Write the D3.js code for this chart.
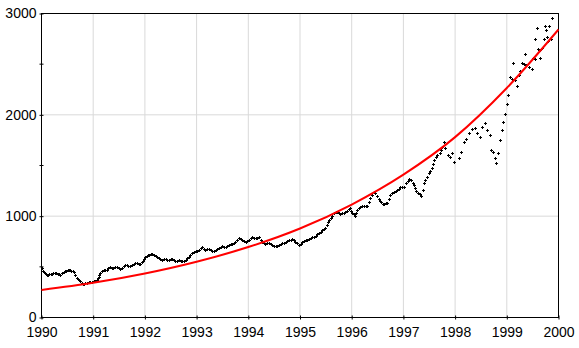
<!DOCTYPE html>
<html>
<head>
<meta charset="utf-8">
<script src="https://cdn.jsdelivr.net/npm/d3@7"></script>
<style>
html,body{margin:0;padding:0;background:#fff;}
svg{display:block;font-family:"Liberation Sans",Arial,sans-serif;}
</style>
</head>
<body>
<svg id="chart" width="579" height="348"></svg>
<script>
// ---- data (decimal year, index value) ----
const indexPoints = [
[1990.00,490],[1990.02,455],[1990.04,445],[1990.06,440],[1990.08,428],[1990.10,423],[1990.13,420],[1990.15,425],[1990.18,430],[1990.20,432],[1990.23,438],[1990.26,440],[1990.28,436],[1990.31,432],[1990.34,425],[1990.36,423],[1990.40,435],[1990.43,446],[1990.46,455],[1990.48,462],[1990.51,466],[1990.53,465],[1990.56,464],[1990.58,462],[1990.60,455],[1990.62,446],[1990.65,420],[1990.68,390],[1990.70,380],[1990.72,372],[1990.74,364],[1990.75,357],[1990.78,345],[1990.80,335],[1990.81,331],[1990.83,333],[1990.85,336],[1990.88,341],[1990.91,346],[1990.94,351],[1990.97,354],
[1991.01,357],[1991.04,362],[1991.07,367],[1991.09,385],[1991.11,400],[1991.12,420],[1991.14,440],[1991.17,455],[1991.20,465],[1991.23,470],[1991.26,472],[1991.29,485],[1991.33,495],[1991.36,492],[1991.39,489],[1991.42,495],[1991.46,499],[1991.49,488],[1991.52,479],[1991.55,492],[1991.59,505],[1991.62,514],[1991.65,521],[1991.68,512],[1991.72,505],[1991.75,518],[1991.78,528],[1991.81,534],[1991.84,538],[1991.88,532],[1991.91,528],[1991.94,545],[1991.97,561],[1991.99,580],
[1992.01,595],[1992.04,610],[1992.06,616],[1992.08,620],[1992.11,624],[1992.14,626],[1992.17,618],[1992.21,610],[1992.24,598],[1992.27,587],[1992.30,578],[1992.33,570],[1992.37,574],[1992.40,577],[1992.43,572],[1992.46,570],[1992.50,574],[1992.53,577],[1992.56,565],[1992.59,554],[1992.62,560],[1992.66,564],[1992.69,558],[1992.72,554],[1992.75,562],[1992.79,570],[1992.82,584],[1992.85,597],[1992.88,617],[1992.91,636],[1992.95,645],[1992.98,652],
[1993.01,660],[1993.04,669],[1993.08,684],[1993.11,695],[1993.14,680],[1993.17,669],[1993.21,673],[1993.24,676],[1993.27,666],[1993.30,659],[1993.34,660],[1993.37,662],[1993.40,675],[1993.43,686],[1993.47,694],[1993.50,701],[1993.53,698],[1993.56,695],[1993.59,707],[1993.62,718],[1993.66,723],[1993.69,728],[1993.72,740],[1993.75,750],[1993.79,768],[1993.82,784],[1993.85,775],[1993.88,767],[1993.92,758],[1993.95,750],[1993.98,758],
[1994.01,767],[1994.05,780],[1994.08,790],[1994.11,787],[1994.14,784],[1994.17,788],[1994.20,790],[1994.24,765],[1994.27,741],[1994.30,734],[1994.33,728],[1994.37,731],[1994.40,734],[1994.43,726],[1994.46,718],[1994.50,708],[1994.53,701],[1994.56,710],[1994.59,718],[1994.63,727],[1994.66,734],[1994.69,738],[1994.72,741],[1994.75,751],[1994.78,760],[1994.82,768],[1994.85,774],[1994.88,762],[1994.91,750],[1994.95,733],[1994.98,718],
[1995.01,730],[1995.04,741],[1995.08,751],[1995.11,760],[1995.14,767],[1995.17,774],[1995.21,782],[1995.24,790],[1995.27,798],[1995.30,807],[1995.33,820],[1995.36,833],[1995.40,846],[1995.43,859],[1995.46,870],[1995.49,882],[1995.52,915],[1995.54,947],[1995.57,965],[1995.59,981],[1995.62,1005],[1995.65,1030],[1995.69,1040],[1995.72,1046],[1995.75,1035],[1995.78,1023],[1995.82,1030],[1995.85,1036],[1995.88,1046],[1995.91,1055],[1995.94,1068],[1995.96,1079],[1995.99,1055],
[1996.01,1036],[1996.04,1020],[1996.07,1003],[1996.09,1035],[1996.11,1062],[1996.14,1080],[1996.17,1095],[1996.20,1100],[1996.23,1102],[1996.27,1100],[1996.30,1102],[1996.33,1144],[1996.36,1178],[1996.40,1210],[1996.43,1242],[1996.46,1226],[1996.49,1195],[1996.52,1167],[1996.55,1150],[1996.57,1135],[1996.60,1125],[1996.62,1121],[1996.66,1128],[1996.69,1134],[1996.72,1170],[1996.75,1210],[1996.78,1228],[1996.81,1242],[1996.85,1250],[1996.88,1259],[1996.91,1272],[1996.94,1285],[1996.97,1288],
[1997.01,1292],[1997.05,1325],[1997.08,1345],[1997.10,1364],[1997.15,1357],[1997.18,1330],[1997.20,1308],[1997.23,1278],[1997.25,1249],[1997.29,1232],[1997.32,1220],[1997.35,1200],[1997.37,1260],[1997.39,1325],[1997.42,1360],[1997.45,1390],[1997.49,1423],[1997.52,1445],[1997.56,1472],[1997.58,1515],[1997.60,1554],[1997.63,1580],[1997.65,1603],[1997.70,1626],[1997.73,1655],[1997.75,1685],[1997.78,1734],[1997.81,1669],[1997.86,1603],[1997.90,1587],[1997.94,1620],[1997.98,1537],
[1998.07,1570],[1998.12,1636],[1998.17,1734],[1998.22,1757],[1998.27,1816],[1998.33,1856],[1998.38,1872],[1998.43,1816],[1998.48,1783],[1998.52,1882],[1998.57,1915],[1998.62,1849],[1998.67,1800],[1998.70,1652],[1998.74,1636],[1998.77,1570],[1998.80,1527],[1998.83,1620],[1998.86,1751],[1998.90,1849],[1998.93,1931],[1998.97,2013],
[1999.00,2102],[1999.03,2193],[1999.06,2373],[1999.10,2351],[1999.12,2515],[1999.15,2341],[1999.19,2282],[1999.23,2397],[1999.26,2430],[1999.30,2515],[1999.33,2505],[1999.35,2603],[1999.38,2488],[1999.43,2472],[1999.48,2456],[1999.51,2560],[1999.54,2751],[1999.55,2554],[1999.59,2855],[1999.60,2652],[1999.64,2560],[1999.65,2636],[1999.68,2659],[1999.72,2751],[1999.74,2872],[1999.75,2833],[1999.77,2767],[1999.79,2724],[1999.81,2875],[1999.85,2751],[1999.88,2954]
];
// red fitted trend curve, read at each year
const trendYears  = [1990,1991,1992,1993,1994,1995,1996,1997,1998,1999,2000];
const trendValues = [272, 342, 434, 550, 695, 878, 1115, 1410, 1780, 2265, 2842];
const xTicks = [1990,1991,1992,1993,1994,1995,1996,1997,1998,1999,2000];
const yMajor = [0,1000,2000,3000];
const yMinor = [500,1500,2500];

const svg = d3.select("#chart");
const x = d3.scaleLinear().domain([1990,2000]).range([41.5,558.5]);
const y = d3.scaleLinear().domain([0,3000]).range([317.5,13.5]);

// grid
const grid = svg.append("g").attr("stroke","#d9d9d9").attr("stroke-width",1);
grid.selectAll("line.v").data(xTicks.slice(1,-1)).join("line")
  .attr("x1",d=>x(d)).attr("x2",d=>x(d)).attr("y1",y(0)).attr("y2",y(3000));
grid.selectAll("line.h").data([1000,2000]).join("line")
  .attr("x1",x(1990)).attr("x2",x(2000)).attr("y1",d=>y(d)).attr("y2",d=>y(d));

// frame
svg.append("rect").attr("x",x(1990)).attr("y",y(3000))
  .attr("width",x(2000)-x(1990)).attr("height",y(0)-y(3000))
  .attr("fill","none").attr("stroke","#000").attr("stroke-width",1);

// axes
const xAxis = svg.append("g").attr("transform",`translate(0,${y(0)})`)
  .call(d3.axisBottom(x).tickValues(xTicks).tickFormat(d3.format("d")).tickSize(2).tickPadding(8));
xAxis.select(".domain").remove();
xAxis.selectAll(".tick line").attr("y1",-2).attr("y2",2).attr("stroke","#000");
xAxis.selectAll("text").attr("font-size",14).attr("fill","#000").attr("font-family","Liberation Sans, Arial, sans-serif");

const yAxis = svg.append("g").attr("transform",`translate(${x(1990)},0)`)
  .call(d3.axisLeft(y).tickValues(yMajor).tickFormat(d3.format("d")).tickSize(2).tickPadding(3));
yAxis.select(".domain").remove();
yAxis.selectAll(".tick line").attr("x1",-2).attr("x2",2).attr("stroke","#000");
yAxis.selectAll("text").attr("font-size",14).attr("fill","#000").attr("font-family","Liberation Sans, Arial, sans-serif");
svg.append("g").selectAll("line").data(yMinor).join("line")
  .attr("x1",x(1990)-2).attr("x2",x(1990)+2).attr("y1",d=>y(d)).attr("y2",d=>y(d))
  .attr("stroke","#000");

// points as small crosses
const s = 1.5;
svg.append("path")
  .attr("d", indexPoints.map(([t,v]) => {
    const px = Math.round(x(t)) + 0.5, py = Math.round(y(v)) + 0.5;
    return `M${px-s},${py}H${px+s}M${px},${py-s}V${py+s}`;
  }).join(""))
  .attr("stroke","#000").attr("stroke-width",1).attr("fill","none");

// trend line
const line = d3.line().x(d=>x(d[0])).y(d=>y(d[1])).curve(d3.curveMonotoneX);
svg.append("path").datum(trendYears.map((t,i)=>[t,trendValues[i]]))
  .attr("d",line).attr("fill","none").attr("stroke","#ff0000").attr("stroke-width",2);
</script>
</body>
</html>
